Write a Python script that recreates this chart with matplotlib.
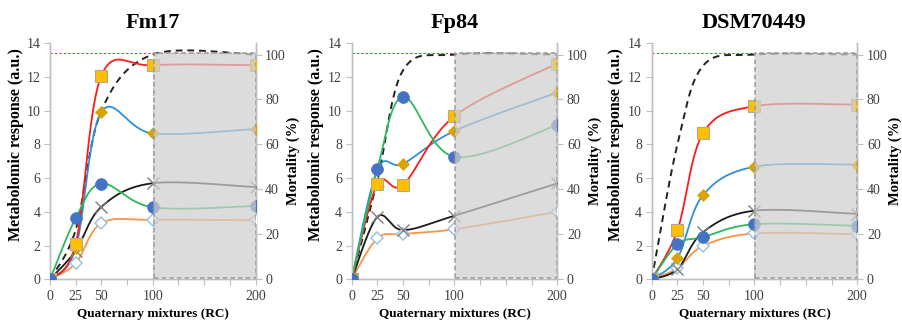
import numpy as np
import matplotlib
matplotlib.use("Agg")
import matplotlib.pyplot as plt
from matplotlib.patches import Rectangle

plt.rcParams['font.family'] = ['Liberation Serif', 'DejaVu Serif']

# ---------------- data ----------------
doses = [0, 25, 50, 100, 200]
titles = ["Fm17", "Fp84", "DSM70449"]

# metabolomic response (a.u.) per strain
red_sq = [[0, 2.1, 12.08, 12.7, 12.7],
          [0, 5.65, 5.6, 9.68, 12.8],
          [0, 2.9, 8.67, 10.27, 10.36]]
blue_dia = [[0, 1.84, 9.92, 8.65, 8.92],
            [0, 6.5, 6.85, 8.8, 11.08],
            [0, 1.25, 5.0, 6.68, 6.8]]
green_circ = [[0, 3.62, 5.68, 4.27, 4.35],
              [0, 6.55, 10.82, 7.27, 9.15],
              [0, 2.08, 2.5, 3.27, 3.17]]
black_x = [[0, 1.7, 4.3, 5.7, 5.47],
           [0, 3.7, 2.92, 3.77, 5.69],
           [0, 0.6, 2.8, 4.07, 3.88]]
orange_od = [[0, 0.95, 3.33, 3.53, 3.5],
             [0, 2.43, 2.68, 2.97, 4.0],
             [0, 0.65, 1.98, 2.72, 2.67]]
# mortality (%)
mortality = [[0, 22, 75, 100, 100],
             [0, 44, 93, 100, 100],
             [0, 60, 95, 100, 100]]

xticks_all = [0, 25, 50, 75, 100, 125, 150, 175, 200]
xtick_labels = ["0", "25", "50", "", "100", "", "", "", "200"]


def excel_smooth(xs, ys, n=80):
    P = np.column_stack([np.asarray(xs, float), np.asarray(ys, float)])
    out = []
    for i in range(len(P) - 1):
        p0 = P[i - 1] if i > 0 else P[i]
        p1 = P[i]
        p2 = P[i + 1]
        p3 = P[i + 2] if i + 2 < len(P) else P[i + 1]
        b1 = p1 + (p2 - p0) / 6.0
        b2 = p2 - (p3 - p1) / 6.0
        t = np.linspace(0, 1, n)[:, None]
        seg = ((1 - t) ** 3) * p1 + 3 * ((1 - t) ** 2) * t * b1 + 3 * (1 - t) * t ** 2 * b2 + t ** 3 * p2
        out.append(seg if i == 0 else seg[1:])
    S = np.vstack(out)
    return S[:, 0], S[:, 1]


fig = plt.figure(figsize=(9.02, 3.24), dpi=100)
lefts = [50 / 902, 351.7 / 902, 651.7 / 902]
W = 205.5 / 902
B = (324 - 279.3) / 324
H = (279.3 - 43.3) / 324
ylab_x = [-0.127, -0.135, -0.135]

spine_c = '#bfbfbf'
tick_c = '#404040'

series = [
    (orange_od, '#F79646', dict(marker='D', ms=6.5, mfc='white', mec='#9DC3E6', mew=1.1)),
    (black_x, '#1a1a1a', dict(marker='x', ms=8, mfc='none', mec='#808080', mew=1.0)),
    (blue_dia, '#2F8FD8', dict(marker='D', ms=6.5, mfc='#D9A300', mec='#D9A300', mew=0.5)),
    (red_sq, '#FF1a1a', dict(marker='s', ms=8.5, mfc='#FFC000', mec='#B8A88A', mew=0.8)),
    (green_circ, '#2DB85A', dict(marker='o', ms=8.5, mfc='#4472C4', mec='#4472C4', mew=0.5)),
]

for k in range(3):
    ax = fig.add_axes([lefts[k], B, W, H])
    ax2 = ax.twinx()
    ax.set_xlim(0, 200)
    ax.set_ylim(0, 14)
    ax2.set_ylim(0, 105)
    ax.set_zorder(ax2.get_zorder() + 1)
    ax.patch.set_visible(False)

    # mortality on right axis
    ax2.plot([0, 200], [100.5, 100.5], color='#FF3030', lw=0.8, ls=(0, (2, 2)))
    mx, my = excel_smooth(doses, mortality[k])
    ax2.plot(mx, my, color='#222222', lw=1.4, ls=(0, (3.5, 2.5)))

    for data, lc, mk in series:
        sx, sy = excel_smooth(doses, data[k])
        ax.plot(sx, sy, color=lc, lw=1.3, zorder=2)
        ax.plot(doses, data[k], ls='none', zorder=3, **mk)

    if k in (0, 2):
        ax.plot([100, 100], [0, red_sq[k][3]], color='#8FB8E0', lw=0.8, ls=(0, (1.5, 1.5)), zorder=4)

    # shaded region on top
    top = 100.5 / 105 * 14
    ax.add_patch(Rectangle((101, 0.05), 99, top - 0.05, facecolor='#cfcfcf', alpha=0.72,
                           edgecolor='none', zorder=5))
    ax.add_patch(Rectangle((101, 0.05), 99, top - 0.05, facecolor='none',
                           edgecolor='#9a9a9a', lw=1.1, ls=(0, (3, 2)), zorder=6))

    ax.set_xticks(xticks_all)
    ax.set_xticklabels(xtick_labels)
    ax.set_yticks(range(0, 15, 2))
    ax2.set_yticks(range(0, 101, 20))
    for a in (ax, ax2):
        a.spines['top'].set_visible(False)
        for s in ('left', 'right', 'bottom'):
            a.spines[s].set_color(spine_c)
            a.spines[s].set_linewidth(1.0)
        a.tick_params(axis='both', direction='out', length=4, width=0.8, color=spine_c,
                      labelsize=10, labelcolor=tick_c, pad=3)
    ax.tick_params(axis='x', pad=4)

    ax.set_xlabel("Quaternary mixtures (RC)", fontsize=9.5, fontweight='bold', labelpad=3)
    ax.set_ylabel("Metabolomic response (a.u.)", fontsize=11.5, fontweight='bold')
    ax.yaxis.set_label_coords(ylab_x[k], 0.57)
    ax2.set_ylabel("Mortality (%)", fontsize=10.5, fontweight='bold', rotation=90)
    ax2.yaxis.set_label_coords(1.15, 0.5)
    ax.text(0.5, 1 + (43.3 - 28) / 236, titles[k], transform=ax.transAxes, ha='center',
            va='baseline', fontsize=16, fontweight='bold')

fig.savefig("out.png", dpi=100)
